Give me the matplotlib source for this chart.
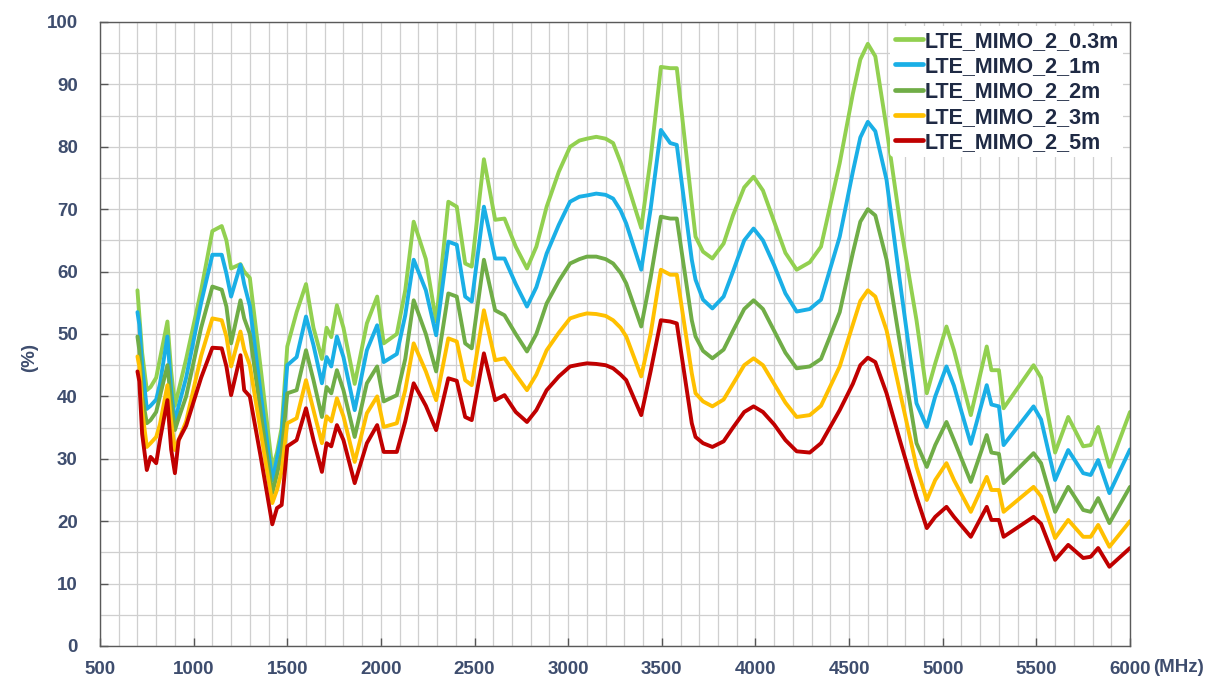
import matplotlib
matplotlib.use("Agg")
import matplotlib.pyplot as plt
from matplotlib.ticker import MultipleLocator

plt.rcParams['font.family'] = ['Liberation Sans', 'DejaVu Sans']

freq_mhz = [700, 710, 725, 750, 770, 800, 820, 860, 880, 900, 920, 960, 1040, 1100,
            1150, 1175, 1200, 1250, 1270, 1300, 1360, 1420, 1445, 1470, 1500, 1550,
            1600, 1640, 1685, 1710, 1735, 1765, 1800, 1860, 1925, 1980, 2015, 2085,
            2130, 2175, 2240, 2295, 2360, 2405, 2450, 2485, 2550, 2610, 2660, 2720,
            2780, 2830, 2885, 2950, 3010, 3060, 3100, 3150, 3200, 3240, 3280, 3310,
            3390, 3440, 3495, 3545, 3580, 3660, 3680, 3720, 3770, 3830, 3880, 3940,
            3990, 4040, 4100, 4160, 4220, 4290, 4350, 4450, 4520, 4560, 4600, 4640,
            4700, 4770, 4860, 4915, 4960, 5020, 5060, 5150, 5235, 5260, 5300, 5325,
            5485, 5525, 5600, 5670, 5750, 5790, 5830, 5890, 6000]

eff_0_3m = [57, 53, 47, 41, 41.5, 43, 46, 52, 44, 38.5, 41, 46, 57, 66.5,
            67.3, 65, 60.5, 61.2, 60, 59, 44, 28.5, 31, 35, 48, 53.5,
            58, 51, 46, 51, 49.5, 54.6, 51, 42, 51.7, 56, 48.5, 50,
            57, 68, 62, 52, 71.2, 70.4, 61.3, 60.8, 78, 68.3, 68.5, 64,
            60.5, 64, 70.4, 76, 80, 81, 81.3, 81.6, 81.3, 80.6, 77.5, 74.7,
            67, 78, 92.8, 92.6, 92.6, 70.9, 65.6, 63.2, 62.1, 64.5, 69, 73.5,
            75.2, 73, 68, 63, 60.3, 61.5, 64, 77.4, 88.5, 94, 96.5, 94.5,
            83, 68.3, 52.2, 40.5, 45.3, 51.2, 47.4, 37, 48, 44.2, 44.2, 38.1,
            45, 43, 31, 36.7, 32, 32.2, 35.1, 28.7, 37.5]

eff_1m = [53.5, 51.5, 45, 38, 38.5, 39.5, 42, 49.6, 41, 35.7, 38.5, 43, 55, 62.7,
          62.7, 59.7, 56, 61.1, 58, 54.5, 40, 26.5, 30, 34, 45, 46.3,
          52.8, 48.2, 42.1, 46.3, 44.8, 49.6, 46.3, 37.8, 47.4, 51.4, 45.5, 46.8,
          53, 61.9, 57, 49.8, 64.8, 64.3, 56, 55.2, 70.4, 62.1, 62.1, 58,
          54.4, 57.5, 62.9, 67.5, 71.2, 72, 72.2, 72.5, 72.3, 71.7, 69.8, 67.7,
          60.3, 70, 82.7, 80.6, 80.3, 61.9, 58.7, 55.5, 54.1, 56, 60, 65,
          66.9, 65, 61, 56.5, 53.6, 54, 55.5, 65.6, 76, 81.5, 84, 82.5,
          74.7, 58.7, 38.9, 35.1, 40, 44.8, 41.7, 32.4, 41.8, 38.7, 38.4, 32.2,
          38.4, 36.3, 26.6, 31.4, 27.7, 27.4, 29.8, 24.5, 31.5]

eff_2m = [49.6, 47.4, 40, 35.7, 36.2, 37.5, 40, 45, 39, 34.6, 36.5, 40, 51, 57.6,
          57.1, 54.4, 48.5, 55.4, 52.5, 50, 37, 24.5, 27.5, 31, 40.5, 41,
          47.4, 42.6, 36.7, 41.5, 40.5, 44.2, 41, 33.5, 42.1, 44.8, 39.2, 40.2,
          46, 55.4, 50, 44, 56.5, 56, 48.5, 47.7, 61.9, 53.8, 53, 50,
          47.2, 50, 54.9, 58.5, 61.3, 62, 62.4, 62.4, 62, 61.3, 59.8, 58.1,
          51.2, 59, 68.8, 68.5, 68.5, 52.2, 49.6, 47.3, 46.1, 47.5, 50.5, 54,
          55.4, 54, 50.5, 47, 44.5, 44.8, 46, 53.5, 63, 68, 70, 69,
          61.9, 48.8, 32.5, 28.7, 32.2, 35.9, 33, 26.3, 33.8, 31, 30.8, 26.1,
          30.9, 29.3, 21.5, 25.5, 21.8, 21.5, 23.7, 19.7, 25.5]

eff_3m = [46.4, 44.8, 37.8, 31.9, 32.5, 33.5, 35.5, 41.8, 36, 31.4, 33, 36, 46.5, 52.5,
          52.2, 49.6, 44.8, 50.4, 47.5, 45, 34, 22.9, 25, 28, 35.7, 36.5,
          42.6, 37.8, 32.5, 36.8, 36, 39.7, 36.8, 29.5, 37.3, 40, 35.1, 35.7,
          41, 48.5, 44, 39.4, 49.3, 48.8, 42.6, 41.8, 53.8, 45.8, 46.1, 43.5,
          41, 43.5, 47.4, 50.2, 52.5, 53, 53.3, 53.2, 52.9, 52.2, 51, 49.6,
          43.2, 50, 60.3, 59.5, 59.5, 43.7, 40.5, 39.2, 38.4, 39.5, 42, 45,
          46.1, 45, 42, 39, 36.7, 37, 38.5, 44.8, 51.5, 55.3, 57, 56,
          50.6, 40.9, 28.7, 23.4, 26.6, 29.3, 26.6, 21.5, 27.1, 25, 25, 21.5,
          25.5, 24, 17.3, 20.2, 17.5, 17.5, 19.4, 15.9, 20]

eff_5m = [44, 42.4, 34, 28.2, 30.3, 29.3, 33, 39.4, 31.5, 27.7, 33, 35.3, 43, 47.8,
          47.7, 44.8, 40.2, 46.6, 41, 40, 30, 19.5, 22.1, 22.6, 32, 33,
          38.1, 33, 27.9, 32.5, 32, 35.4, 33, 26.1, 32.5, 35.4, 31.1, 31.1,
          36, 42.1, 38.5, 34.6, 42.9, 42.5, 36.7, 36.2, 46.9, 39.4, 40.2, 37.5,
          35.9, 37.8, 41, 43.2, 44.8, 45.1, 45.3, 45.2, 45, 44.5, 43.5, 42.6,
          37, 44, 52.2, 52, 51.7, 35.7, 33.5, 32.5, 31.9, 32.8, 35, 37.5,
          38.4, 37.5, 35.5, 33, 31.2, 31, 32.5, 37.8, 42, 45, 46.2, 45.5,
          40.5, 33.1, 23.9, 18.9, 20.7, 22.3, 20.7, 17.5, 22.3, 20.2, 20.2, 17.5,
          20.7, 19.6, 13.8, 16.2, 14.1, 14.3, 15.7, 12.7, 15.7]

series_labels = ['LTE_MIMO_2_0.3m', 'LTE_MIMO_2_1m', 'LTE_MIMO_2_2m',
                 'LTE_MIMO_2_3m', 'LTE_MIMO_2_5m']
series_values = [eff_0_3m, eff_1m, eff_2m, eff_3m, eff_5m]
series_colors = ['#92D050', '#1AAFE6', '#70AD47', '#FFC000', '#C00000']

x_ticks = [500, 1000, 1500, 2000, 2500, 3000, 3500, 4000, 4500, 5000, 5500, 6000]
y_ticks = [0, 10, 20, 30, 40, 50, 60, 70, 80, 90, 100]

tick_color = '#3E4D6E'

fig = plt.figure(figsize=(12.18, 6.84), dpi=100)
ax = fig.add_axes([100 / 1218, 1 - 646 / 684, 1030 / 1218, 624 / 684])

for lab, vals, col in zip(series_labels, series_values, series_colors):
    ax.plot(freq_mhz, vals, color=col, lw=2.8, label=lab,
            solid_joinstyle='round', solid_capstyle='round')

ax.set_xlim(500, 6000)
ax.set_ylim(0, 100)
ax.set_xticks(x_ticks)
ax.set_yticks(y_ticks)
ax.xaxis.set_minor_locator(MultipleLocator(100))
ax.yaxis.set_minor_locator(MultipleLocator(5))
ax.grid(True, which='both', color='#CFCFCF', lw=0.9)
ax.set_axisbelow(True)
ax.tick_params(axis='both', which='major', direction='in', length=6, width=1,
               color='#555555', labelsize=13.5, labelcolor=tick_color)
ax.tick_params(axis='x', which='major', pad=11)
ax.tick_params(axis='y', which='major', pad=16)
ax.tick_params(axis='both', which='minor', length=0)
for lbl in ax.get_xticklabels() + ax.get_yticklabels():
    lbl.set_fontweight('bold')
for sp in ax.spines.values():
    sp.set_color('#5A5A5A')
    sp.set_linewidth(1.0)

fig.text(30 / 1218, 1 - 358 / 684, '(%)', fontsize=13.5, fontweight='bold',
         color=tick_color, ha='center', va='center', rotation=90)
fig.text(1178 / 1218, 1 - 667 / 684, '(MHz)', fontsize=13.5, fontweight='bold',
         color=tick_color, ha='center', va='center')

leg = ax.legend(loc='upper right', bbox_to_anchor=(0.993, 0.993), frameon=True,
                facecolor='white', edgecolor='none', framealpha=1.0,
                handlelength=1.3, handletextpad=0.08, labelspacing=0.2,
                borderpad=0.2, borderaxespad=0.0,
                prop={'size': 15.5, 'weight': 'bold'})
for t in leg.get_texts():
    t.set_color('#1F2A44')
for h in leg.get_lines():
    h.set_linewidth(3.4)

fig.savefig('out.png', dpi=100)
